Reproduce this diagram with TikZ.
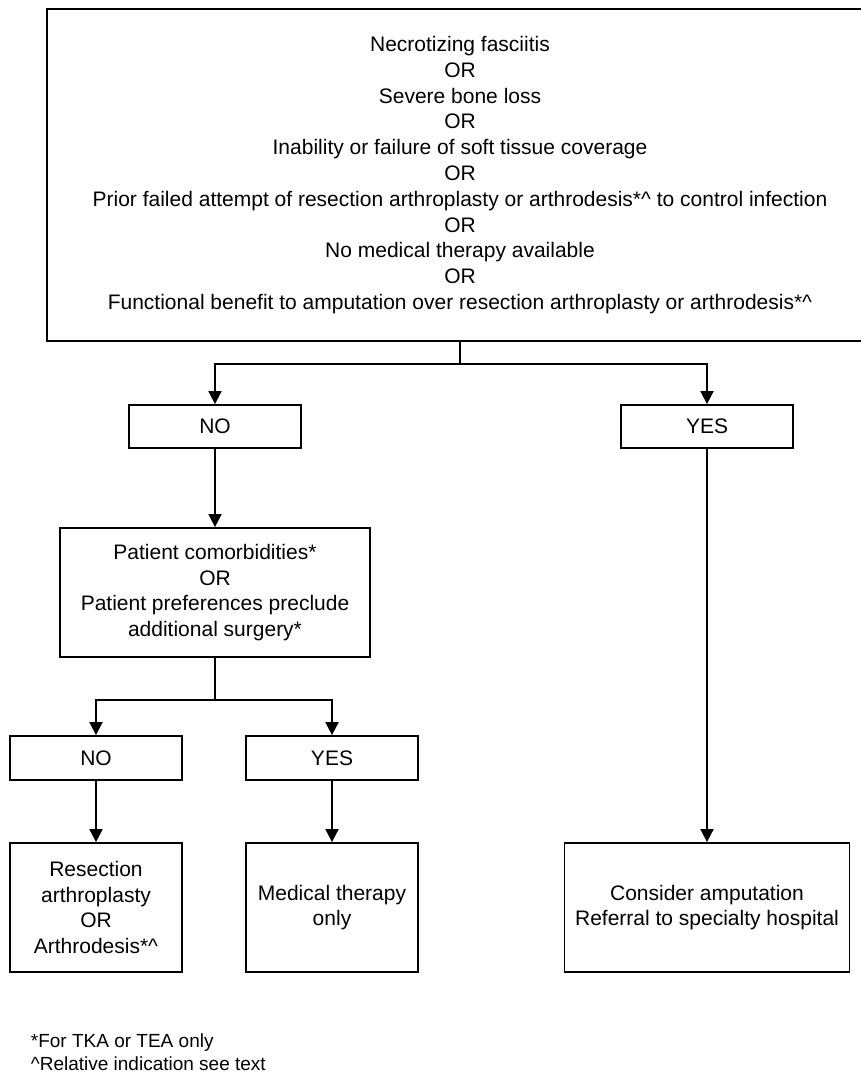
\documentclass[tikz,border=0pt]{standalone}
\usepackage{fontspec}
\setmainfont{Liberation Sans}
\usetikzlibrary{arrows.meta,positioning}

\begin{document}
\begin{tikzpicture}[x=1pt, y=-1pt, line width=1.8pt,
    box/.style={draw, align=center, inner sep=0pt, font=\fontsize{21}{25.8}\selectfont},
    flow/.style={-{Triangle[length=13pt,width=13pt]}},
    note/.style={anchor=west, inner sep=0pt, font=\fontsize{19}{21}\selectfont}]
  \useasboundingbox (0,0) rectangle (861,1075);
  % criteria at the top
  \node[box, minimum width=826pt, minimum height=332pt] (crit) at (460,175)
       {Necrotizing fasciitis\\ OR\\ Severe bone loss\\ OR\\
        Inability or failure of soft tissue coverage\\ OR\\
        Prior failed attempt of resection arthroplasty or arthrodesis*\textasciicircum{} to control infection\\ OR\\
        No medical therapy available\\ OR\\
        Functional benefit to amputation over resection arthroplasty or arthrodesis*\textasciicircum};
  \node[box, minimum width=172pt, minimum height=43pt] (no) at (215,426.5) {NO};
  \node[box, minimum width=172pt, minimum height=43pt] (yes) at (707,426.5) {YES};
  \node[box, minimum width=310pt, minimum height=129pt] (pat) at (215,592.5)
       {Patient comorbidities*\\ OR\\ Patient preferences preclude\\ additional surgery*};
  \node[box, minimum width=172pt, minimum height=44pt] (no2) at (96,758) {NO};
  \node[box, minimum width=172pt, minimum height=44pt] (yes2) at (332,758) {YES};
  \node[box, minimum width=172pt, minimum height=129pt] (res) at (96,907.5)
       {Resection\\ arthroplasty\\ OR\\ Arthrodesis*\textasciicircum};
  \node[box, minimum width=172pt, minimum height=129pt] (med) at (332,907.5)
       {Medical therapy\\ only};
  \node[box, minimum width=285pt, minimum height=129pt] (amp) at (707,907.5)
       {Consider amputation\\ Referral to specialty hospital};
  % footnotes
  \node[note] (fa) at (30,1043) {*For TKA or TEA only};
  \node[note] (fb) at (30,1064) {\textasciicircum Relative indication see text};

  \draw[flow] (crit.south) -- ++(0,22) -| (no.north);
  \draw[flow] (crit.south) -- ++(0,22) -| (yes.north);
  \draw[flow] (no) -- (pat);
  \draw[flow] (yes) -- (amp);
  \draw[flow] (pat.south) -- ++(0,42) -| (no2.north);
  \draw[flow] (pat.south) -- ++(0,42) -| (yes2.north);
  \draw[flow] (no2) -- (res);
  \draw[flow] (yes2) -- (med);
\end{tikzpicture}
\end{document}
